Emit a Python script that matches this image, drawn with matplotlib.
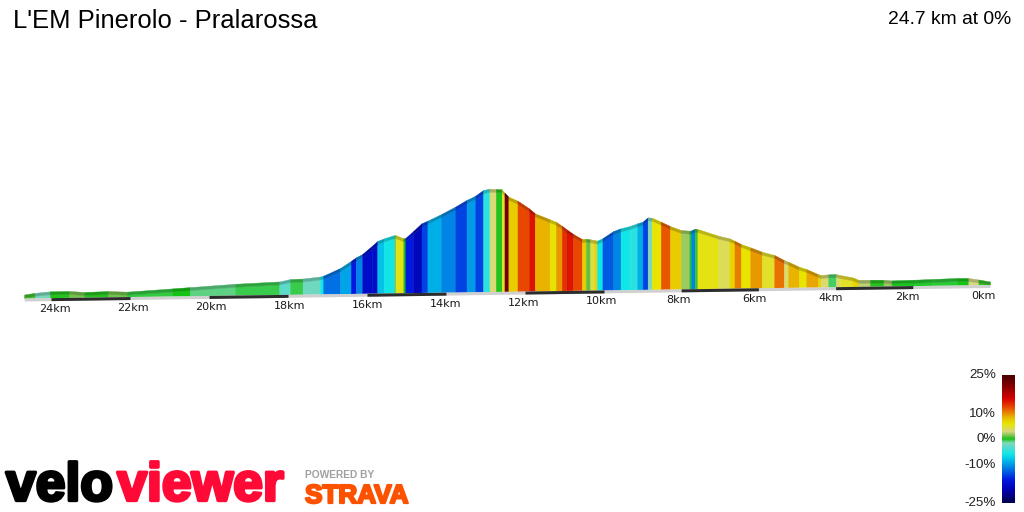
import numpy as np
import matplotlib
matplotlib.use("Agg")
import matplotlib.pyplot as plt
import matplotlib.patheffects as pe
from matplotlib.colors import LinearSegmentedColormap, Normalize, to_rgb

title = "L'EM Pinerolo - Pralarossa"
summary = "24.7 km at 0%"

# distance remaining (km), elevation above the base (relative units) at segment ends
km = [24.68, 24.41, 24.03, 23.54, 23.16, 22.55, 22.08, 20.94, 20.48, 19.34, 18.22, 17.95, 17.63, 17.19, 17.11,
      16.68, 16.41, 16.28, 16.12, 15.88, 15.74, 15.57, 15.33, 15.27, 15.08, 15.03, 14.83, 14.62, 14.47, 14.13,
      13.77, 13.48, 13.26, 13.06, 12.90, 12.74, 12.59, 12.52, 12.42, 12.19, 11.90, 11.75, 11.37, 11.22, 11.07,
      10.96, 10.78, 10.56, 10.46, 10.35, 10.25, 10.18, 10.04, 9.76, 9.57, 9.33, 9.14, 9.00, 8.87, 8.76,
      8.53, 8.29, 8.01, 7.79, 7.75, 7.65, 7.58, 7.04, 6.75, 6.62, 6.45, 6.21, 5.91, 5.59, 5.34,
      5.23, 4.95, 4.76, 4.46, 4.39, 4.19, 3.99, 3.89, 3.57, 3.41, 3.11, 2.76, 2.55, 1.94, 1.51,
      0.86, 0.56, 0.30, 0.00]
elev = [3.5, 5.0, 6.3, 6.4, 5.2, 5.8, 4.9, 7.5, 8.6, 11.3, 13.0, 15.2, 15.6, 17.4, 18.1,
        25.6, 32.5, 36.1, 39.3, 47.2, 52.1, 54.7, 57.6, 57.6, 54.5, 54.7, 61.6, 69.2, 71.7, 78.0,
        85.3, 91.9, 96.0, 101.6, 102.9, 102.5, 102.1, 98.7, 94.6, 90.5, 82.7, 77.6, 71.4, 68.9, 64.9,
        61.5, 56.4, 51.3, 51.5, 50.9, 50.1, 49.4, 51.7, 58.8, 61.4, 63.6, 66.2, 67.7, 72.0, 71.6,
        67.5, 63.0, 58.9, 58.1, 58.2, 60.0, 59.7, 52.7, 49.9, 47.4, 44.0, 40.6, 36.0, 32.6, 27.4,
        25.7, 20.5, 18.1, 12.9, 11.9, 12.5, 12.7, 11.6, 9.2, 6.6, 6.5, 6.3, 5.5, 5.9, 6.3,
        7.0, 6.8, 5.2, 3.0]
# gradient (%) used to colour each segment, as shown by the colour of the band
grade = [0.6, -1.8, 0.2, 1.3, 0.2, 1.3, -0.4, 0.0, -1.0, -0.5, -3.0, -0.5, -2.2, -6.0,
         -12, -9.5, -16, -11, -18, -18, -8, -6, -1, 5.5, 0.0, -16, -19, -14, -9,
         -11, -14, -10, -14, -5, 3.2, 0.2, 5, 22, 7.5, 12.5, 15, 8.5, 6, 9.5,
         13.5, 15, 12.5, 7.5, 1, 4.5, 7, -6, -13, -11, -6, -5, -9, -14, -1.5,
         6, 12, 7.5, 2, 0.3, -11, 0.5, 5.5, 4, 7, 10.5, 6, 9.5, 5, 11,
         3.5, 8.5, 6, 9, 7, 3.5, -0.7, 3.5, 5, 7, 2.5, 0.2, 2, -0.1,
         -0.2, -0.3, 0.0, 3, 0.4]

tick_km = [24, 22, 20, 18, 16, 14, 12, 10, 8, 6, 4, 2, 0]
bar_starts = [24, 20, 16, 12, 8, 4]
legend_values = [25, 10, 0, -10, -25]
legend_labels = ["25%", "10%", "0%", "-10%", "-25%"]

cmap_values = [-25, -20, -16, -12, -9, -6, -3.5, -1.5, 0, 1, 3, 6, 8, 10, 13, 16, 21, 25]
cmap_colors = ["#00004a", "#0000b0", "#0018e0", "#0070e4", "#00b0e8", "#10e6e8", "#50dcd0", "#80d8b8",
               "#10c410", "#60c040", "#d8d880", "#e8e400", "#e8c400", "#e88c00", "#e83c00", "#d40000",
               "#800000", "#480000"]

cmap = LinearSegmentedColormap.from_list(
    "grade", [((v + 25) / 50, c) for v, c in zip(cmap_values, cmap_colors)], N=512)
norm = Normalize(-25, 25)


def forward(k):
    k = np.asarray(k, dtype=float)
    return np.where(k <= 10, k * 38.6, 386 + (k - 10) * 39.5)


def inverse(p):
    p = np.asarray(p, dtype=float)
    return np.where(p <= 386, p / 38.6, 10 + (p - 386) / 39.5)


def tilt(k):
    return 0.547 * (24.68 - np.asarray(k, dtype=float))


fig = plt.figure(figsize=(10.24, 5.12), dpi=100, facecolor="white")
ax = fig.add_axes([0, 0, 1, 1])
ax.set_xscale("function", functions=(forward, inverse))
ax.set_xlim(25.291, -0.881)
ax.set_ylim(-214, 298)
ax.axis("off")

STRIP = 3.0
for i, g in enumerate(grade):
    seg = np.array(km[i:i + 2])
    top = np.array(elev[i:i + 2]) + tilt(seg)
    base = tilt(seg)
    rgb = np.array(to_rgb(cmap(norm(g))))
    dark = rgb * 0.8
    front_top = np.maximum(top - STRIP, base)
    ax.fill_between(seg, base, front_top, color=rgb, lw=0.3, zorder=2)
    ax.fill_between(seg, front_top, top, color=dark, lw=0.3, zorder=3)

# base slab with alternating 2 km bars
kms = np.array([km[0], 0.0])
ax.fill_between(kms, tilt(kms) - 3.0, tilt(kms), color="#d0d0d0", lw=0, zorder=4)
for s in bar_starts:
    seg = np.array([s, s - 2.0])
    ax.fill_between(seg, tilt(seg) - 3.0, tilt(seg), color="#2c2c2c", lw=0, zorder=5)

for k in tick_km:
    ax.annotate(f"{k}km", (k, float(tilt(k))), xytext=((k - 12) * 0.3 - 1.0, -8.3),
                textcoords="offset points", ha="center", va="center", fontsize=8,
                family="DejaVu Sans", color="#1a1a1a")


def fx(x):
    return x / 1024


def fy(y):
    return 1 - y / 512


fig.text(fx(13), fy(21), title, fontsize=18.45, family="Liberation Sans", va="center", ha="left", color="black")
fig.text(fx(1011), fy(20), summary, fontsize=13.85, family="Liberation Sans", va="center", ha="right", color="black")

# colour legend
cax = fig.add_axes([fx(1002), fy(503), 13 / 1024, 128 / 512])
cax.imshow(np.linspace(25, -25, 256)[:, None], cmap=cmap, norm=norm, aspect="auto", extent=[0, 1, -25, 25])
cax.axis("off")
for v, lab in zip(legend_values, legend_labels):
    fig.text(fx(996), fy(439.5 - v * 2.56), lab, fontsize=9.6,
             family="Liberation Sans", va="center", ha="right", color="#222222")

# logos
thick = lambda c, w=2.4: [pe.withStroke(linewidth=w, foreground=c)]
fig.text(fx(6), fy(500.5), "velo", fontsize=38.5, family="Liberation Sans", weight="bold", color="black",
         va="baseline", ha="left", path_effects=thick("black"))
fig.text(fx(284), fy(500.5), "viewer", fontsize=38.5, family="Liberation Sans", weight="bold", color="#ff0a37",
         va="baseline", ha="right", path_effects=thick("#ff0a37"))
fig.text(fx(305), fy(478.5), "POWERED BY", fontsize=7.4, family="Liberation Sans", weight="bold", color="#a0a0a0",
         va="baseline", ha="left")
fig.text(fx(305), fy(503), "STRAVA", fontsize=18.8, family="Liberation Sans", weight="bold", color="#fc5200",
         va="baseline", ha="left", path_effects=thick("#fc5200", 1.6))

fig.savefig("out.png", dpi=100)
